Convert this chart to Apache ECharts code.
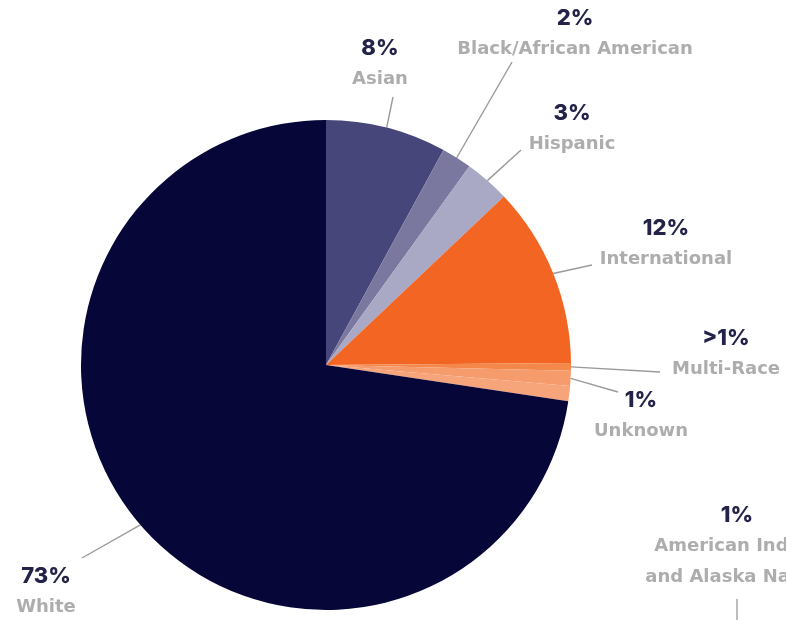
<!DOCTYPE html>
<html>
<head>
<meta charset="utf-8">
<script src="https://cdn.jsdelivr.net/npm/echarts@6/dist/echarts.min.js"></script>
<style>
  html, body { margin: 0; padding: 0; background: #ffffff; }
  #chart { width: 786px; height: 620px; }
</style>
</head>
<body>
<div id="chart"></div>
<script>
// Enrollment by race / ethnicity
const categories = [
  'Asian',
  'Black/African American',
  'Hispanic',
  'International',
  'Multi-Race',
  'Unknown',
  'American Indian\nand Alaska Native',
  'White'
];
const values = [8, 2, 3, 12, 0.5, 1, 1, 73];
const valueLabels = ['8%', '2%', '3%', '12%', '>1%', '1%', '1%', '73%'];

const sliceColors = ['#47467a', '#7a789e', '#a9a8c5', '#f26522', '#f4874a', '#f59b6c', '#f6a47a', '#060638'];

// Where each label block sits (centre) and where its guide line ends
const labelSpots = [
  { x: 380, y: 64,  end: [393, 97] },
  { x: 575, y: 34,  end: [512, 62] },
  { x: 572, y: 129, end: [521, 150] },
  { x: 666, y: 244, end: [592, 265] },
  { x: 726, y: 354, end: [660, 372] },
  { x: 641, y: 416, end: [618, 392] },
  { x: 737, y: 546, end: null },
  { x: 46,  y: 592, end: [82, 558] }
];

const chart = echarts.init(document.getElementById('chart'), null, { renderer: 'canvas' });

const pieData = categories.map((name, i) => ({
  name: name,
  value: values[i],
  itemStyle: { color: sliceColors[i] },
  labelLine: { show: labelSpots[i].end !== null }
}));

chart.setOption({
  backgroundColor: '#ffffff',
  animation: false,
  graphic: [
    {
      type: 'line',
      shape: { x1: 737, y1: 599, x2: 737, y2: 620 },
      style: { stroke: '#9a9a9a', lineWidth: 1.3 }
    }
  ],
  series: [
    {
      type: 'pie',
      center: [326, 365],
      radius: 245,
      startAngle: 90,
      clockwise: true,
      avoidLabelOverlap: false,
      data: pieData,
      itemStyle: { borderWidth: 0 },
      emphasis: { disabled: true },
      label: {
        show: true,
        position: 'outside',
        formatter: (p) => '{p|' + valueLabels[p.dataIndex] + '}\n{n|' + p.name.split('\n').join('}\n{n|') + '}',
        rich: {
          p: {
            fontFamily: 'Inter, "Noto Sans", sans-serif',
            fontWeight: 800,
            fontSize: 22,
            color: '#23234a',
            lineHeight: 31,
            align: 'center'
          },
          n: {
            fontFamily: '"DejaVu Sans", sans-serif',
            fontWeight: 'bold',
            fontSize: 18,
            color: '#adadad',
            lineHeight: 31,
            align: 'center'
          }
        }
      },
      labelLine: {
        show: true,
        length: 20,
        length2: 20,
        lineStyle: { color: '#9a9a9a', width: 1.4 }
      },
      labelLayout: function (params) {
        const s = labelSpots[params.dataIndex];
        const out = { x: s.x, y: s.y, align: 'center', verticalAlign: 'middle' };
        if (s.end && params.labelLinePoints) {
          out.labelLinePoints = [params.labelLinePoints[0], s.end, s.end];
        }
        return out;
      }
    }
  ]
});
</script>
</body>
</html>
